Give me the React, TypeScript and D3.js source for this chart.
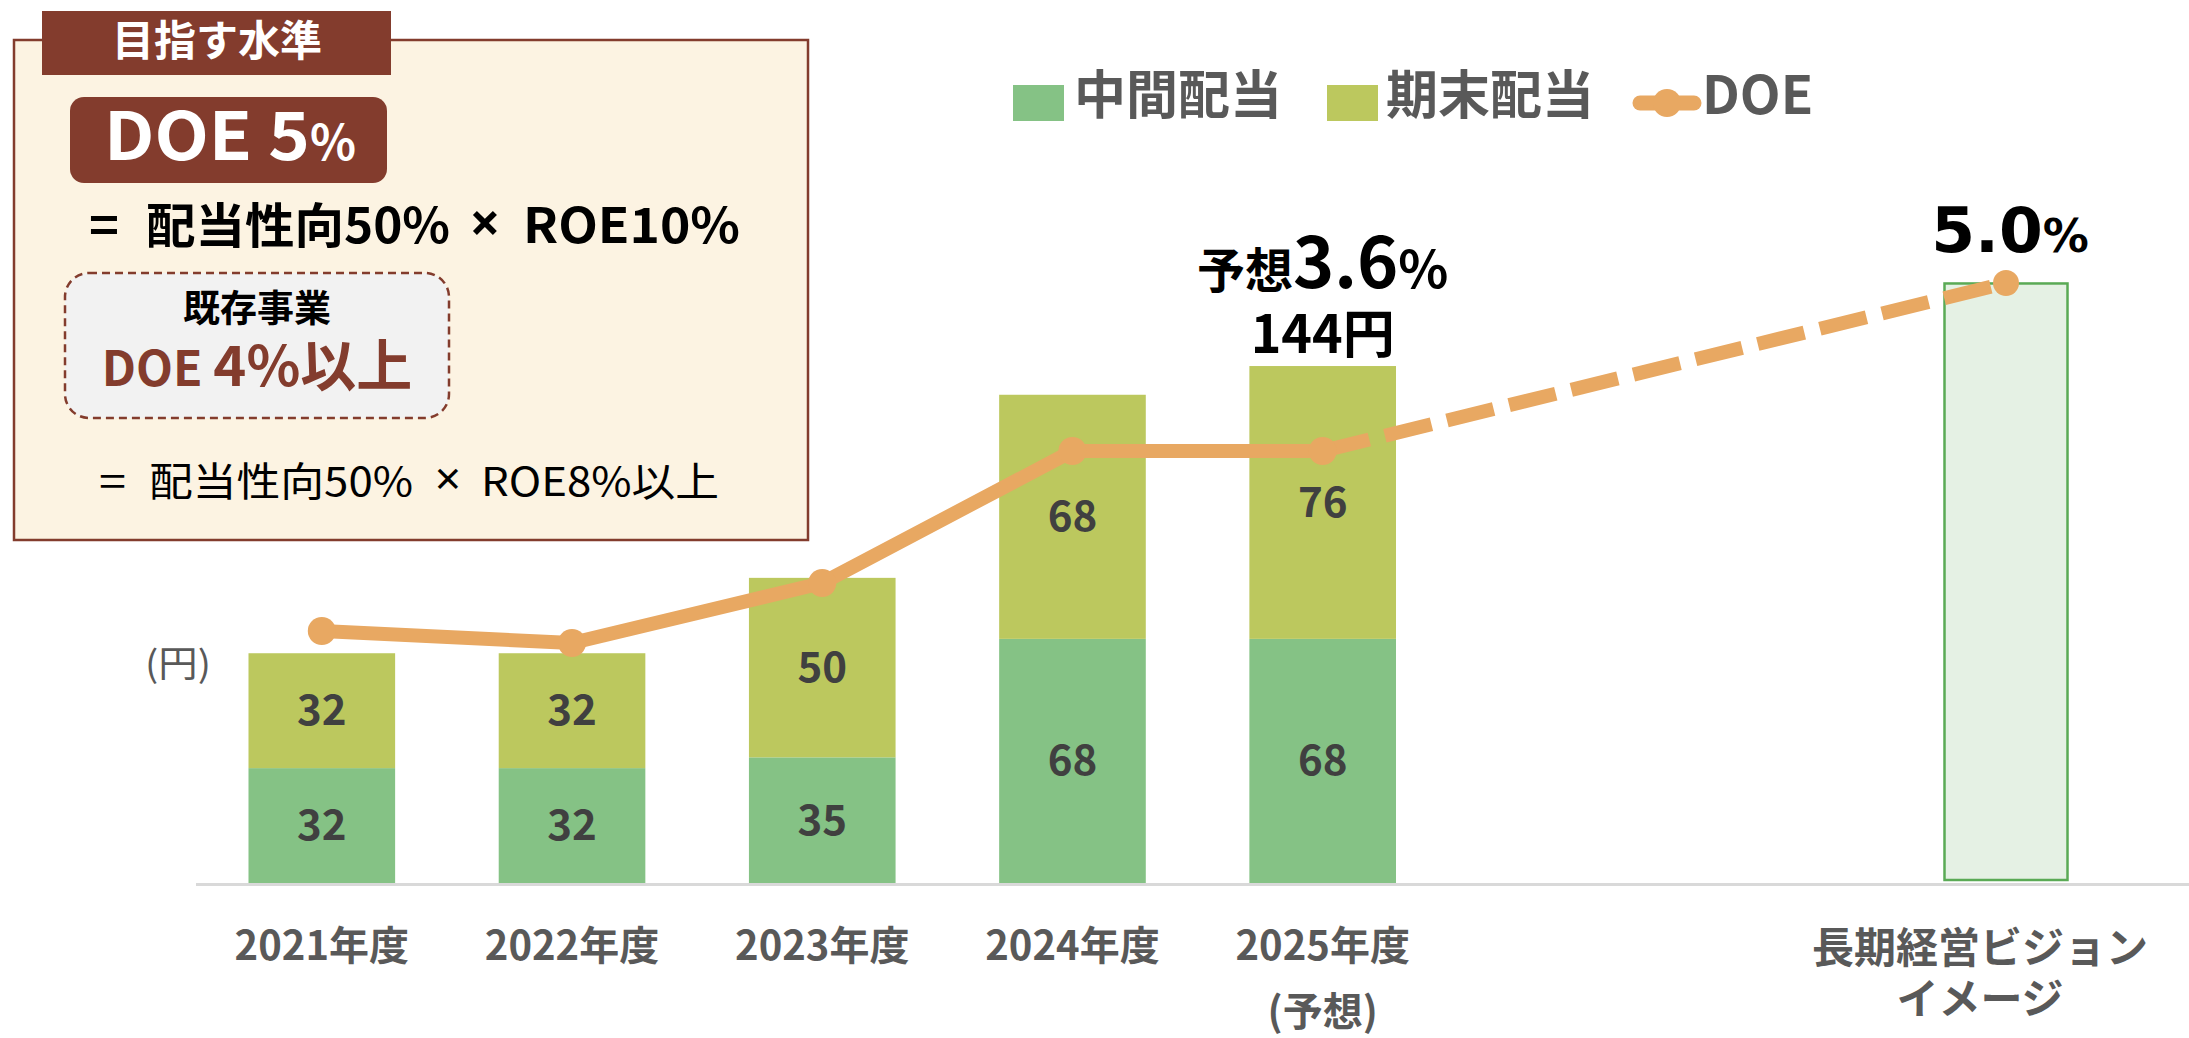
import React from "react";
import * as d3 from "d3";

// ---- data ----
const categories = ["2021年度", "2022年度", "2023年度", "2024年度", "2025年度"];
const interimDiv = [32, 32, 35, 68, 68];
const yearEndDiv = [32, 32, 50, 68, 76];
const doeValues = [2.1, 2.0, 2.5, 3.6, 3.6];
const visionCategory = "長期経営ビジョン";
const visionLabelLines = ["長期経営ビジョン", "イメージ"];
const visionBarValue = 167;
const visionDoe = 5.0;
const forecastTotal = "144円";
const forecastDoe = "3.6";
const visionDoeText = "5.0";
const legendItems = ["中間配当", "期末配当", "DOE"];

// ---- style ----
const W = 2189;
const H = 1038;
const C_INTERIM = "#85C285";
const C_YEAREND = "#BCC85E";
const C_DOE = "#E8A862";
const C_BROWN = "#833C2D";
const C_CREAM = "#FCF3E2";
const FONT = "'Noto Sans CJK JP', 'Noto Sans', sans-serif";

export default function App() {
  const baseY = 883;
  const x = d3
    .scaleBand<string>()
    .domain(categories)
    .range([196.7, 1447.8])
    .paddingInner(0.414)
    .paddingOuter(0.207);
  const xv = d3.scaleBand<string>().domain([visionCategory]).range([1944.5, 2067.5]);
  const y = d3.scaleLinear().domain([0, 100]).range([baseY, baseY - 359]);
  const y2 = d3.scaleLinear().domain([0, 5]).range([baseY, 283]);

  const cx = (c: string) => (x(c) as number) + x.bandwidth() / 2;
  const vcx = (xv(visionCategory) as number) + xv.bandwidth() / 2;

  const doePts: [number, number][] = categories.map((c, i) => [cx(c), y2(doeValues[i])]);
  const visionPt: [number, number] = [vcx, y2(visionDoe)];
  const line = d3.line();
  const solidPath = line(doePts) as string;
  const dashPath = line([doePts[doePts.length - 1], visionPt]) as string;

  const lastC = categories[categories.length - 1];
  const lastTotal = interimDiv[4] + yearEndDiv[4];

  return (
    <svg
      width={W}
      height={H}
      style={{ position: "absolute", left: 0, top: 0, background: "#fff" }}
      fontFamily={FONT}
    >
      {/* ---------- left target box ---------- */}
      <rect x={14} y={40} width={794} height={500} fill={C_CREAM} stroke={C_BROWN} strokeWidth={2.5} />
      <rect x={42} y={11} width={349} height={64} fill={C_BROWN} />
      <text x={217} y={56} textAnchor="middle" fill="#fff" fontSize={42} fontWeight={700}>
        目指す水準
      </text>
      <rect x={70} y={97} width={317} height={86} rx={14} fill={C_BROWN} />
      <text y={160} fill="#fff" fontWeight={700}>
        <tspan x={104} fontSize={66} textLength={206} lengthAdjust="spacingAndGlyphs">DOE 5</tspan>
        <tspan x={310} fontSize={48} textLength={46} lengthAdjust="spacingAndGlyphs">%</tspan>
      </text>
      <text y={243} fill="#000" fontSize={48} fontWeight={700}>
        <tspan x={89} textLength={30} lengthAdjust="spacingAndGlyphs">=</tspan>
        <tspan x={146} textLength={304} lengthAdjust="spacingAndGlyphs">配当性向50%</tspan>
        <tspan x={523} textLength={217} lengthAdjust="spacingAndGlyphs">ROE10%</tspan>
      </text>
      <text x={485} y={242} textAnchor="middle" fill="#000" fontSize={54} fontWeight={700} fontFamily="'Noto Sans', sans-serif">
        ×
      </text>
      <rect
        x={65}
        y={273}
        width={384}
        height={145}
        rx={24}
        fill="#F2F2F2"
        stroke={C_BROWN}
        strokeWidth={2.5}
        strokeDasharray="8 5"
      />
      <text x={257} y={322} textAnchor="middle" fill="#000" fontSize={37} fontWeight={700}>
        既存事業
      </text>
      <text x={257} y={386} textAnchor="middle" fill={C_BROWN} fontWeight={700}>
        <tspan fontSize={48}>DOE </tspan>
        <tspan fontSize={56}>4%以上</tspan>
      </text>
      <text y={496} fill="#000" fontSize={40}>
        <tspan x={99} textLength={27} lengthAdjust="spacingAndGlyphs">=</tspan>
        <tspan x={149} textLength={264} lengthAdjust="spacingAndGlyphs">配当性向50%</tspan>
        <tspan x={481} textLength={238} lengthAdjust="spacingAndGlyphs">ROE8%以上</tspan>
      </text>
      <text x={448} y={495} textAnchor="middle" fill="#000" fontSize={46} fontFamily="'Noto Sans', sans-serif">
        ×
      </text>

      {/* ---------- legend ---------- */}
      <rect x={1013} y={85} width={51} height={36} fill={C_INTERIM} />
      <text x={1074} y={114} fill="#595959" fontSize={52} fontWeight={700}>
        {legendItems[0]}
      </text>
      <rect x={1327} y={85} width={51} height={36} fill={C_YEAREND} />
      <text x={1386} y={114} fill="#595959" fontSize={52} fontWeight={700}>
        {legendItems[1]}
      </text>
      <line x1={1640} x2={1694} y1={103} y2={103} stroke={C_DOE} strokeWidth={15} strokeLinecap="round" />
      <circle cx={1667} cy={103} r={14} fill={C_DOE} />
      <text x={1702} y={114} fill="#595959" fontSize={53} fontWeight={700}>
        {legendItems[2]}
      </text>

      {/* ---------- axis ---------- */}
      <line x1={196} x2={W} y1={baseY + 1.5} y2={baseY + 1.5} stroke="#D9D9D9" strokeWidth={3} />
      <text x={145} y={677} fill="#595959" fontSize={36} textLength={66} lengthAdjust="spacingAndGlyphs">
        (円)
      </text>

      {/* ---------- bars ---------- */}
      {categories.map((c, i) => {
        const x0 = x(c) as number;
        const bw = x.bandwidth();
        const yA = y(interimDiv[i]);
        const yB = y(interimDiv[i] + yearEndDiv[i]);
        return (
          <g key={c}>
            <rect x={x0} y={yA} width={bw} height={baseY - yA} fill={C_INTERIM} />
            <rect x={x0} y={yB} width={bw} height={yA - yB} fill={C_YEAREND} />
            <text
              x={cx(c)}
              y={(baseY + yA) / 2 - 4}
              textAnchor="middle"
              dominantBaseline="central"
              fill="#404040"
              fontSize={42}
              fontWeight={700}
            >
              {interimDiv[i]}
            </text>
            <text
              x={cx(c)}
              y={(yA + yB) / 2 - 4}
              textAnchor="middle"
              dominantBaseline="central"
              fill="#404040"
              fontSize={42}
              fontWeight={700}
            >
              {yearEndDiv[i]}
            </text>
            <text x={cx(c)} y={960} textAnchor="middle" fill="#595959" fontSize={40} fontWeight={700}>
              {c}
            </text>
          </g>
        );
      })}
      <text x={cx(lastC)} y={1026} textAnchor="middle" fill="#595959" fontSize={40} fontWeight={700}>
        (予想)
      </text>

      {/* vision bar */}
      <rect
        x={xv(visionCategory) as number}
        y={y(visionBarValue)}
        width={xv.bandwidth()}
        height={baseY - 3 - y(visionBarValue)}
        fill="#E5F1E4"
        stroke="#5AAA55"
        strokeWidth={2.5}
      />
      {visionLabelLines.map((t, i) => (
        <text key={t} x={vcx - 26} y={963 + i * 51} textAnchor="middle" fill="#595959" fontSize={42} fontWeight={700}>
          {t}
        </text>
      ))}

      {/* ---------- DOE line ---------- */}
      <path d={solidPath} fill="none" stroke={C_DOE} strokeWidth={14} strokeLinejoin="round" />
      <path d={dashPath} fill="none" stroke={C_DOE} strokeWidth={14} strokeDasharray="48 16" />
      {doePts.map((p, i) => (
        <circle key={i} cx={p[0]} cy={p[1]} r={14} fill={C_DOE} />
      ))}
      <circle cx={visionPt[0]} cy={visionPt[1]} r={13} fill={C_DOE} />

      {/* ---------- annotations ---------- */}
      <text x={cx(lastC)} y={288} textAnchor="middle" fill="#000" fontWeight={700}>
        <tspan fontSize={48}>予想</tspan>
        <tspan fontSize={70}>{forecastDoe}</tspan>
        <tspan fontSize={52}>%</tspan>
      </text>
      <text x={cx(lastC)} y={y(lastTotal) - 13} textAnchor="middle" fill="#000" fontSize={52} fontWeight={700}>
        {forecastTotal}
      </text>
      <text x={vcx + 4} y={252} textAnchor="middle" fill="#000" fontWeight={700} fontFamily="'DejaVu Sans', sans-serif">
        <tspan fontSize={63}>{visionDoeText}</tspan>
        <tspan fontSize={46}>%</tspan>
      </text>
    </svg>
  );
}
